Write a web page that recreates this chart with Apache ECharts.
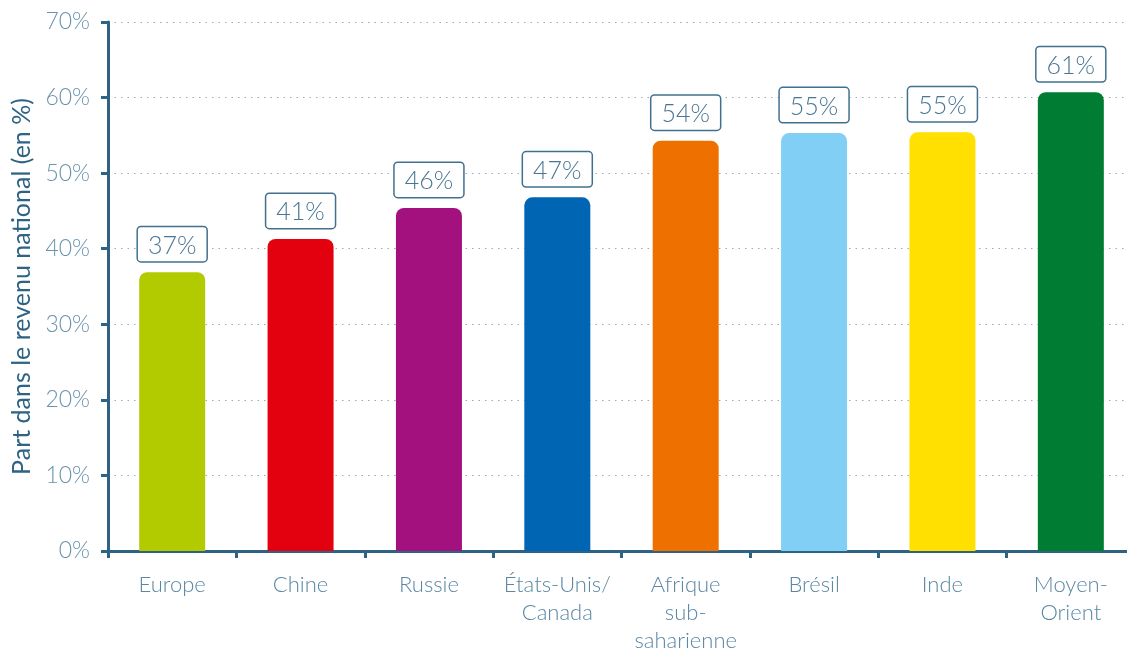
<!DOCTYPE html>
<html><head><meta charset="utf-8">
<script src="https://cdn.jsdelivr.net/npm/echarts@6/dist/echarts.min.js"></script>
<style>html,body{margin:0;padding:0;background:#fff;overflow:hidden}#c{width:1140px;height:650px}</style>
</head><body><div id="c"></div>
<script>
var categories = ['Europe', 'Chine', 'Russie', 'États-Unis/\nCanada', 'Afrique\nsub-\nsaharienne', 'Brésil', 'Inde', 'Moyen-\nOrient'];
var values = [36.9, 41.3, 45.4, 46.8, 54.3, 55.3, 55.4, 60.7];
var labels = ['37%', '41%', '46%', '47%', '54%', '55%', '55%', '61%'];
var colors = ['#b2cb00', '#e3000f', '#a3117f', '#0066b3', '#ee7100', '#82cff5', '#ffe000', '#007c33'];
var yTicks = [0, 10, 20, 30, 40, 50, 60, 70];
var yName = 'Part dans le revenu national (en %)';

var chart = echarts.init(document.getElementById('c'), null, {renderer: 'canvas'});
chart.setOption({
  animation: false,
  grid: {left: 108, right: 5, top: 22, bottom: 99, containLabel: false, outerBoundsMode: 'none'},
  xAxis: {
    type: 'category',
    data: categories,
    axisLine: {lineStyle: {color: '#2e6384', width: 3}},
    axisTick: {show: true, length: 7, lineStyle: {color: '#2e6384', width: 3}},
    axisLabel: {color: '#5a87a4', fontFamily: 'Lato', fontWeight: 300, fontSize: 22, lineHeight: 28, margin: 20, interval: 0}
  },
  yAxis: {
    type: 'value',
    min: yTicks[0], max: yTicks[yTicks.length - 1], interval: 10,
    name: yName,
    nameLocation: 'middle',
    nameGap: 72,
    nameTextStyle: {color: '#2e6384', fontFamily: 'Lato', fontSize: 25},
    axisLine: {show: true, lineStyle: {color: '#2e6384', width: 3}},
    axisTick: {show: true, length: 7, lineStyle: {color: '#2e6384', width: 3}},
    axisLabel: {color: '#6a93ad', fontFamily: 'Lato', fontWeight: 300, fontSize: 23, margin: 18, formatter: '{value}%'},
    splitLine: {show: true, lineStyle: {color: '#9aa9b5', type: [1.5, 5], width: 1.2}}
  },
  series: [{
    type: 'bar',
    barWidth: 66,
    data: values.map(function (v, i) {
      return {value: v, itemStyle: {color: colors[i], borderRadius: [8, 8, 0, 0]}};
    }),
    label: {
      show: true,
      position: 'top',
      distance: 11,
      formatter: function (p) { return labels[p.dataIndex]; },
      color: '#4a7693',
      fontFamily: 'Lato',
      fontWeight: 300,
      fontSize: 25,
      backgroundColor: '#fff',
      borderColor: '#41708f',
      borderWidth: 1.5,
      borderRadius: 3,
      padding: [6, 10, 3, 10]
    }
  }]
});
</script></body></html>
